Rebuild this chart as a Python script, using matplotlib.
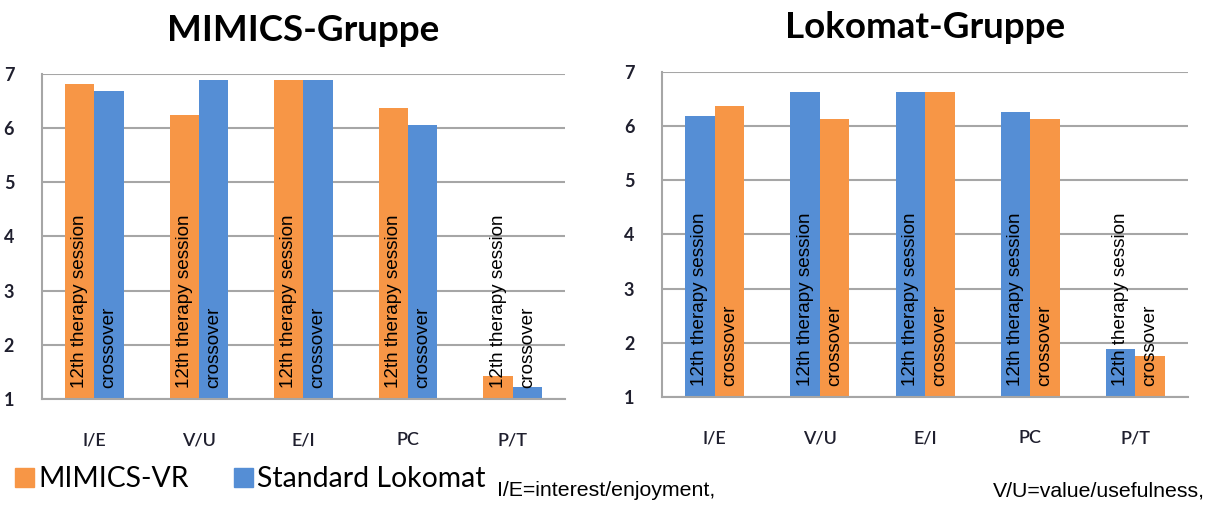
import matplotlib
matplotlib.use("Agg")
import matplotlib.pyplot as plt
from matplotlib.patches import Patch
import numpy as np

# data
categories = ["I/E", "V/U", "E/I", "PC", "P/T"]

mimics_vr_12th = [6.82, 6.24, 6.88, 6.37, 1.42]
mimics_std_cross = [6.69, 6.88, 6.88, 6.05, 1.23]

lokomat_std_12th = [6.18, 6.63, 6.63, 6.25, 1.88]
lokomat_vr_cross = [6.37, 6.12, 6.63, 6.12, 1.76]

bar_labels = ["12th therapy session", "crossover"]
titles = ["MIMICS-Gruppe", "Lokomat-Gruppe"]
legend_names = ["MIMICS-VR", "Standard Lokomat"]
yticks = [1, 2, 3, 4, 5, 6, 7]

ORANGE = "#F79646"
BLUE = "#558ED5"
GRID = "#A6A6A6"
TICKCOL = "#1F1F2E"

fig = plt.figure(figsize=(12.09, 5.08), dpi=100)
ax1 = fig.add_axes([0.0347, 0.2146, 0.4326, 0.6398])
ax2 = fig.add_axes([0.5476, 0.2185, 0.4351, 0.6404])

def draw(ax, first, second, c1, c2, title):
    x = np.arange(len(categories))
    w = 0.28
    b1 = ax.bar(x - w / 2, np.array(first) - 1, w, bottom=1, color=c1, zorder=2)
    b2 = ax.bar(x + w / 2, np.array(second) - 1, w, bottom=1, color=c2, zorder=2)
    for bars, lab in zip((b1, b2), bar_labels):
        for r in bars:
            ax.text(r.get_x() + r.get_width() / 2, 1.2, lab, rotation=90,
                    ha="center", va="bottom", fontsize=13.6,
                    family="Liberation Sans", color="black", zorder=3)
    ax.set_xlim(-0.5, len(categories) - 0.5)
    ax.set_ylim(1, 7)
    ax.set_yticks(yticks)
    ax.set_xticks(x)
    ax.set_xticklabels(categories, family="Lato", fontweight="semibold",
                       fontsize=13, color=TICKCOL)
    ax.set_yticklabels([str(v) for v in yticks], family="Lato",
                       fontweight="bold", fontsize=13, color=TICKCOL)
    ax.tick_params(axis="both", length=0)
    ax.tick_params(axis="y", pad=20)
    ax.tick_params(axis="x", pad=24)
    ax.grid(axis="y", color=GRID, linewidth=1.5, zorder=0)
    for s in ("top", "right"):
        ax.spines[s].set_visible(False)
    ax.spines["left"].set_color(GRID)
    ax.spines["left"].set_linewidth(1.5)
    ax.spines["bottom"].set_color(GRID)
    ax.spines["bottom"].set_linewidth(1.5)
    ax.set_title(title, family="Lato", fontweight="bold", fontsize=26.5,
                 color="black", pad=24)

draw(ax1, mimics_vr_12th, mimics_std_cross, ORANGE, BLUE, titles[0])
draw(ax2, lokomat_std_12th, lokomat_vr_cross, BLUE, ORANGE, titles[1])

handles = [Patch(color=ORANGE), Patch(color=BLUE)]
fig.legend(handles, legend_names, loc="center left", bbox_to_anchor=(0.0125, 0.057),
           ncol=2, frameon=False, prop={"family": "Lato", "size": 20.4},
           handlelength=0.66, handleheight=0.66, handletextpad=0.15,
           columnspacing=1.6, borderaxespad=0, borderpad=0)

fig.text(497 / 1209, 1 - 491 / 508, "I/E=interest/enjoyment,", family="Liberation Sans",
         fontsize=15.3, va="center", ha="left")
fig.text(1205 / 1209, 1 - 491 / 508, "V/U=value/usefulness,", family="Liberation Sans",
         fontsize=15.3, va="center", ha="right")

fig.savefig("out.png", dpi=100)
